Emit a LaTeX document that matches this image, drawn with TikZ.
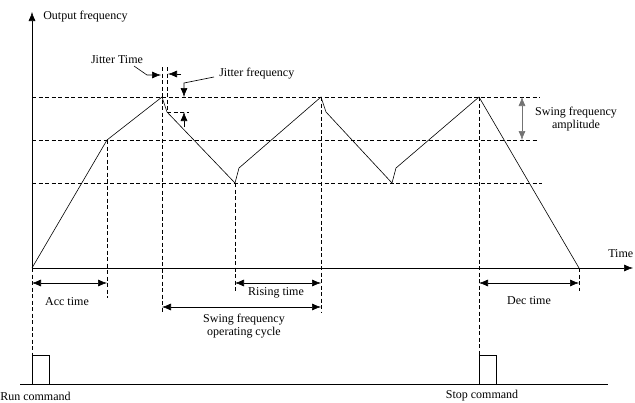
\documentclass[tikz,border=0pt]{standalone}
\usepackage{fontspec}
\setmainfont{Liberation Serif}
\usetikzlibrary{arrows.meta}

\tikzset{
  guide/.style={dash pattern=on 4pt off 2.5pt,line width=.6pt},
  tip/.style={-{Latex[length=9pt,width=7pt]}},
  dim/.style={{Latex[length=9pt,width=7pt]}-{Latex[length=9pt,width=7pt]}},
  lbl/.style={font=\fontsize{12}{13}\selectfont,inner sep=0pt,align=center},
}

\begin{document}
\begin{tikzpicture}[x=1pt,y=-1pt,line width=.6pt]
  \useasboundingbox (0,0) rectangle (635,402);
  % axes
  \coordinate (o) at (32,268);
  \coordinate (ytop) at (32,12);
  \coordinate (xend) at (633,268);
  \draw[tip] (o) -- (ytop);
  \draw[tip] (o) -- (xend);
  \node[lbl,anchor=west] (ylab) at (43,17) {Output frequency};
  \node[lbl,anchor=west] (xlab) at (608,254) {Time};
  % frequency levels
  \foreach \y/\xe in {97/540,140/537,183/542}
    \draw[guide] (32,\y) -- (\xe,\y);
  % output frequency curve
  \coordinate (acc) at (107,140);
  \coordinate (pk1) at (162,97);
  \coordinate (jt1) at (167,112);
  \coordinate (lo1) at (235,183);
  \coordinate (up1) at (239,168);
  \coordinate (pk2) at (321,97);
  \coordinate (jt2) at (326,112);
  \coordinate (lo2) at (392,183);
  \coordinate (up2) at (396,168);
  \coordinate (pk3) at (479,97);
  \coordinate (stop) at (579,268);
  \draw (o) -- (acc) -- (pk1) -- (jt1) -- (lo1) -- (up1) -- (pk2)
    -- (jt2) -- (lo2) -- (up2) -- (pk3) -- (stop);
  % guide lines
  \draw[guide] (o) -- (32,355);
  \draw[guide] (acc) -- (107,298);
  \draw[guide] (162,67) -- (162,312);
  \draw[guide] (167,67) -- (jt1);
  \draw[guide] (lo1) -- (235,292);
  \draw[guide] (pk2) -- (321,312);
  \draw[guide] (pk3) -- (479,384);
  \draw[guide] (stop) -- (579,291);
  \draw[guide] (jt1) -- (189,112);
  % time spans
  \draw[dim] (32,283) -- (107,283);
  \node[lbl] (acclab) at (67,302) {Acc time};
  \draw[dim] (235,283) -- (321,283);
  \node[lbl] (riselab) at (276,293) {Rising time};
  \draw[dim] (162,307) -- (321,307);
  \node[lbl] (cyclab) at (244,326) {Swing frequency\\operating cycle};
  \draw[dim] (479,283) -- (579,283);
  \node[lbl] (declab) at (529,301) {Dec time};
  \draw[dim,black!55] (522,97) -- (522,140);
  \node[lbl] (amplab) at (576,119) {Swing frequency\\amplitude};
  % jitter
  \node[lbl] (jtlab) at (117,60) {Jitter Time};
  \draw[tip] (134,66) -- (147,75) -- (161,75);
  \draw[tip] (181,74) -- (168,74);
  \node[lbl,anchor=west] (jflab) at (219,74) {Jitter frequency};
  \draw[tip] (214,77) -- (184,83) -- (184,97);
  \draw[tip] (184,127) -- (184,112);
  % commands
  \draw (20,384) -- (608,384);
  \draw (32,384) -- (32,355) -- (49,355) -- (49,384);
  \draw (479,384) -- (479,355) -- (496,355) -- (496,384);
  \node[lbl,anchor=west] (runlab) at (0,396) {Run command};
  \node[lbl] (stoplab) at (482,396) {Stop command};
\end{tikzpicture}
\end{document}
